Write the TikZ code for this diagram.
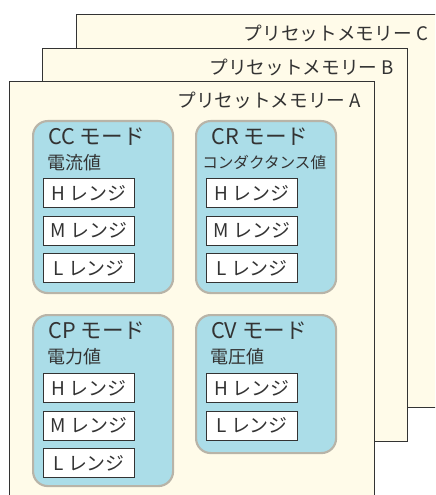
\documentclass[tikz,border=0pt]{standalone}
\usepackage{fontspec}
\setmainfont{Noto Sans CJK JP}
\usepackage{tikz}
\usetikzlibrary{calc}
\definecolor{Ink}{HTML}{333333}
\definecolor{Cream}{HTML}{FFFBE9}
\definecolor{Sky}{HTML}{ABDDE8}
\definecolor{Pebble}{HTML}{B8B4A8}
\tikzset{sheet/.style={draw=Ink,fill=Cream,line width=1pt,anchor=north west,inner sep=0pt,minimum width=273.75pt,minimum height=294.75pt},sheetlabel/.style={anchor=east,inner sep=0pt,text=Ink,font=\fontsize{14}{14}\selectfont},mode/.style={draw=Pebble,fill=Sky,line width=1.6pt,rounded corners=11pt,anchor=north west,inner sep=0pt,minimum width=105pt},modetitle/.style={anchor=west,inner sep=0pt,text=Ink,font=\fontsize{16.2}{17}\selectfont},modevalue/.style={anchor=west,inner sep=0pt,text=Ink,font=\fontsize{13.5}{14}\selectfont},rangebox/.style={draw=Ink,fill=white,line width=1pt,anchor=north west,inner sep=0pt,minimum width=68.25pt,minimum height=21.75pt,text=Ink,font=\fontsize{14.2}{15}\selectfont}}

\begin{document}
\begin{tikzpicture}[x=.75pt,y=-.75pt]
      \useasboundingbox(0,0)rectangle(435,495);\clip(0,0)rectangle(435,495);
      % three stacked memory sheets
      \node[sheet](memC)at(76,14){};\node[sheetlabel](labC)at($(memC.north east)+(-14,19)$){プリセットメモリー C};
      \node[sheet](memB)at(42,48){};\node[sheetlabel](labB)at($(memB.north east)+(-14,19)$){プリセットメモリー B};
      \node[sheet,minimum height=315pt](memA)at(9,81){};\node[sheetlabel](labA)at($(memA.north east)+(-14,19)$){プリセットメモリー A};
      % modes on sheet A
      \node[mode,minimum height=129pt](cc)at(32,120){};
      \node[modetitle](cctitle)at($(cc.north west)+(16,17)$){CC モード};\node[modevalue](ccvalue)at($(cc.north west)+(15,43)$){電流値};
      \foreach \rg [count=\i from 0] in {H,M,L}\node[rangebox](cc\rg)at($(cc.north west)+(11,58+37.5*\i)$){\rg\ レンジ};
      \node[mode,minimum height=129pt](cr)at(195,120){};
      \node[modetitle](crtitle)at($(cr.north west)+(16,17)$){CR モード};\node[modevalue,font=\fontsize{11.7}{12}\selectfont](crvalue)at($(cr.north west)+(7,43)$){コンダクタンス値};
      \foreach \rg [count=\i from 0] in {H,M,L}\node[rangebox](cr\rg)at($(cr.north west)+(11,58+37.5*\i)$){\rg\ レンジ};
      \node[mode,minimum height=128.25pt](cp)at(32,314){};
      \node[modetitle](cptitle)at($(cp.north west)+(16,17)$){CP モード};\node[modevalue](cpvalue)at($(cp.north west)+(15,43)$){電力値};
      \foreach \rg [count=\i from 0] in {H,M,L}\node[rangebox](cp\rg)at($(cp.north west)+(11,59+37.5*\i)$){\rg\ レンジ};
      \node[mode,minimum height=103.5pt](cv)at(195,314){};
      \node[modetitle](cvtitle)at($(cv.north west)+(16,17)$){CV モード};\node[modevalue](cvvalue)at($(cv.north west)+(15,43)$){電圧値};
      \foreach \rg [count=\i from 0] in {H,L}\node[rangebox](cv\rg)at($(cv.north west)+(11,59+37.5*\i)$){\rg\ レンジ};
    \end{tikzpicture}
\end{document}
